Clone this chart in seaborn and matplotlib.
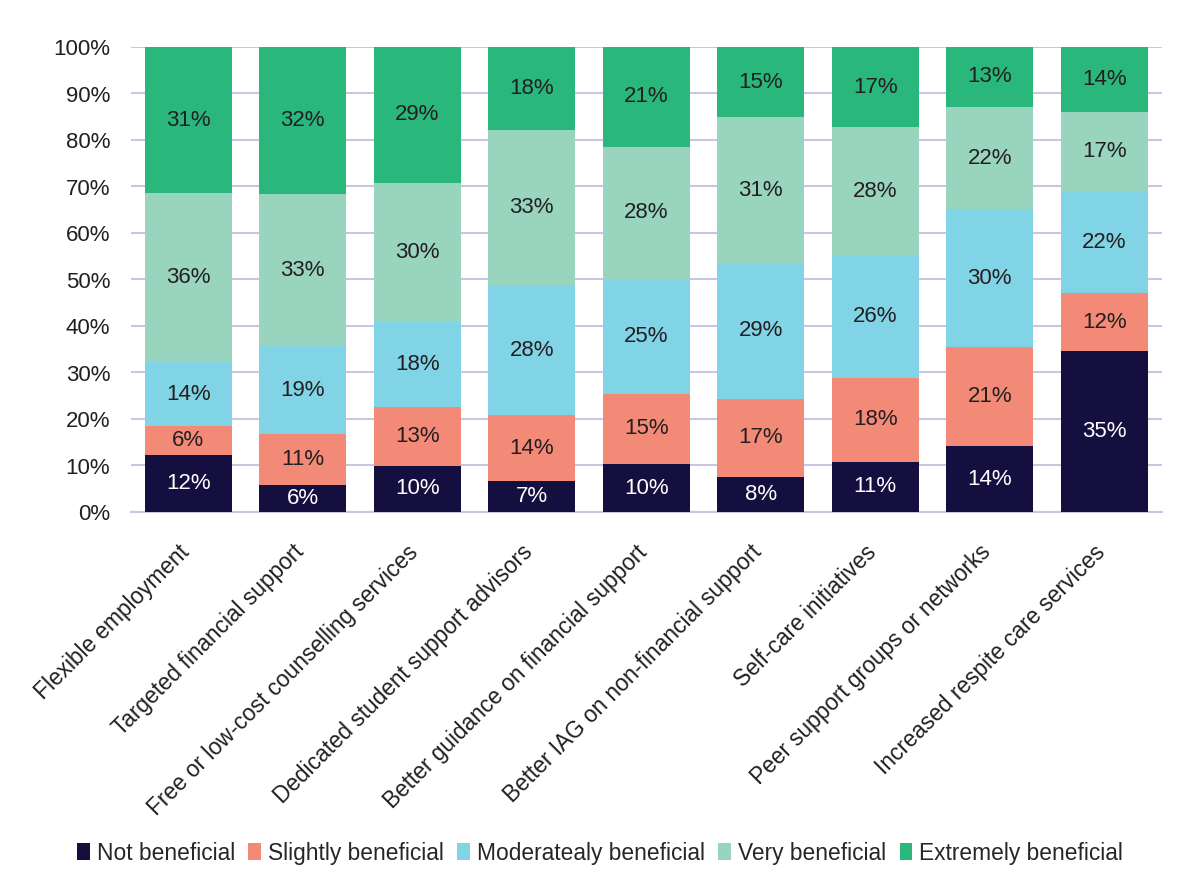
import numpy as np
import pandas as pd
import matplotlib
matplotlib.use("Agg")
import matplotlib.pyplot as plt
import matplotlib.transforms as mtransforms
from matplotlib.patches import Patch
import seaborn as sns

categories = [
    "Flexible employment",
    "Targeted financial support",
    "Free or low-cost counselling services",
    "Dedicated student support advisors",
    "Better guidance on financial support",
    "Better IAG on non-financial support",
    "Self-care initiatives",
    "Peer support groups or networks",
    "Increased respite care services",
]
levels = ["Not beneficial", "Slightly beneficial", "Moderatealy beneficial",
          "Very beneficial", "Extremely beneficial"]

not_beneficial = [12.2, 5.7, 9.9, 6.6, 10.3, 7.5, 10.8, 14.1, 34.6]
slightly = [6.2, 11.0, 12.6, 14.2, 15.1, 16.9, 18.0, 21.3, 12.4]
moderately = [13.9, 18.9, 18.4, 27.9, 24.8, 29.1, 26.3, 29.7, 21.9]
very = [36.3, 32.8, 29.9, 33.4, 28.4, 31.4, 27.6, 22.0, 17.2]
extremely = [31.4, 31.6, 29.2, 17.9, 21.4, 15.1, 17.3, 12.9, 13.9]

colors = ["#150f40", "#f38a77", "#81d3e6", "#98d4be", "#29b77c"]
text_colors = ["white", "#231f20", "#231f20", "#231f20", "#231f20"]

sns.set_style("white")
plt.rcParams["font.family"] = ["Liberation Sans", "DejaVu Sans"]

series = [not_beneficial, slightly, moderately, very, extremely]
df = pd.DataFrame({lv: s for lv, s in zip(levels, series)}, index=categories)
cum = df.cumsum(axis=1)

fig = plt.figure(figsize=(12, 8.96), dpi=100)
ax = fig.add_axes([131 / 1200, 1 - 512 / 896, (1161.5 - 131) / 1200, 465 / 896])

# draw cumulative layers from top down so each lower one covers the one above
for i in range(len(levels) - 1, -1, -1):
    layer = pd.DataFrame({"cat": categories, "val": cum[levels[i]].values})
    sns.barplot(data=layer, x="cat", y="val", color=colors[i], width=0.76,
                saturation=1, linewidth=0, ax=ax, zorder=3)

for i, lv in enumerate(levels):
    bottoms = cum[lv].values - df[lv].values
    for j, v in enumerate(df[lv].values):
        ax.text(j, bottoms[j] + v / 2, f"{round(v):.0f}%", ha="center", va="center",
                fontsize=16, color=text_colors[i], zorder=5)

ax.set_ylim(0, 100)
ax.set_xlim(-0.5, len(categories) - 0.5)
ax.set_yticks(np.arange(0, 101, 10))
ax.set_yticklabels([f"{t}%" for t in range(0, 101, 10)], fontsize=16, color="#231f20")
ax.yaxis.grid(True, color="#c9c5e2", linewidth=1.5, zorder=0)
ax.set_axisbelow(True)
ax.set_xlabel("")
ax.set_ylabel("")
ax.set_xticks(range(len(categories)))
ax.set_xticklabels(categories, rotation=45, ha="right", rotation_mode="anchor",
                   fontsize=16.3, color="#231f20")
ax.tick_params(axis="y", length=0, pad=15)
ax.tick_params(axis="x", length=0, pad=12)
shift = mtransforms.ScaledTranslation(-0.11, -0.12, fig.dpi_scale_trans)
for lbl in ax.get_xticklabels():
    lbl.set_transform(lbl.get_transform() + shift)
for s in ["top", "right", "left"]:
    ax.spines[s].set_visible(False)
ax.spines["bottom"].set_color("#c9c5e2")
ax.spines["bottom"].set_linewidth(1.5)

handles = [Patch(facecolor=c, edgecolor="none") for c in colors]
fig.legend(handles, levels, loc="center", bbox_to_anchor=(0.5, 1 - 853 / 896), ncol=5,
           frameon=False, fontsize=16.4, handlelength=0.55, handleheight=0.75,
           handletextpad=0.3, columnspacing=0.6)

fig.savefig("out.png", dpi=100)
